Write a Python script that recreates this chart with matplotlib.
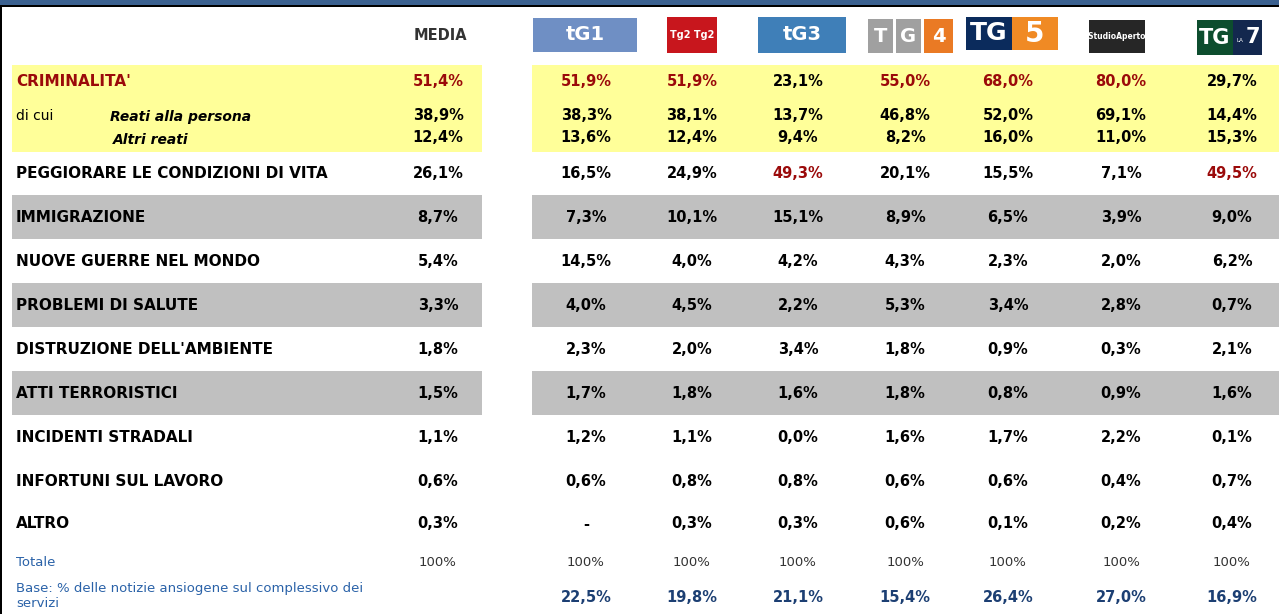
"""Notizie ansiogene per tipo e testata: tabella ricostruita."""
import matplotlib
matplotlib.use("Agg")
import matplotlib.pyplot as plt
from matplotlib.patches import Rectangle

# --- data -------------------------------------------------------------
categories = ["CRIMINALITA'", "Reati alla persona", "Altri reati",
              "PEGGIORARE LE CONDIZIONI DI VITA", "IMMIGRAZIONE",
              "NUOVE GUERRE NEL MONDO", "PROBLEMI DI SALUTE",
              "DISTRUZIONE DELL'AMBIENTE", "ATTI TERRORISTICI",
              "INCIDENTI STRADALI", "INFORTUNI SUL LAVORO", "ALTRO"]
media = [51.4, 38.9, 12.4, 26.1, 8.7, 5.4, 3.3, 1.8, 1.5, 1.1, 0.6, 0.3]
tg1 = [51.9, 38.3, 13.6, 16.5, 7.3, 14.5, 4.0, 2.3, 1.7, 1.2, 0.6, None]
tg2 = [51.9, 38.1, 12.4, 24.9, 10.1, 4.0, 4.5, 2.0, 1.8, 1.1, 0.8, 0.3]
tg3 = [23.1, 13.7, 9.4, 49.3, 15.1, 4.2, 2.2, 3.4, 1.6, 0.0, 0.8, 0.3]
tg4 = [55.0, 46.8, 8.2, 20.1, 8.9, 4.3, 5.3, 1.8, 1.8, 1.6, 0.6, 0.6]
tg5 = [68.0, 52.0, 16.0, 15.5, 6.5, 2.3, 3.4, 0.9, 0.8, 1.7, 0.6, 0.1]
studio_aperto = [80.0, 69.1, 11.0, 7.1, 3.9, 2.0, 2.8, 0.3, 0.9, 2.2, 0.4, 0.2]
tg_la7 = [29.7, 14.4, 15.3, 49.5, 9.0, 6.2, 0.7, 2.1, 1.6, 0.1, 0.7, 0.4]
base = [22.5, 19.8, 21.1, 15.4, 26.4, 27.0, 16.9]
channels = [tg1, tg2, tg3, tg4, tg5, studio_aperto, tg_la7]
sub_rows = {1, 2}          # "di cui" rows
grey_rows = {4, 6, 8}      # shaded rows

# --- layout -----------------------------------------------------------
W, H = 1279, 614
row_y = [82, 115, 138, 173, 217, 261, 305, 349, 393, 437, 481, 524]
media_x = 438
chan_x = [586, 692, 798, 905, 1008, 1121, 1232]
RED = "#9b0a0a"
BLUE = "#2a62a8"
NAVY = "#1c3f73"
FONT = "DejaVu Sans"

fig = plt.figure(figsize=(W / 100, H / 100), dpi=100)
ax = fig.add_axes([0, 0, 1, 1])
ax.set_xlim(0, W)
ax.set_ylim(H, 0)
ax.axis("off")

# frame bits
ax.add_patch(Rectangle((0, 0), W, 4.5, color="#3b6190", lw=0))
ax.add_patch(Rectangle((0, 4.5), W, 2, color="black", lw=0))
ax.add_patch(Rectangle((0, 4.5), 2, H, color="black", lw=0))

# bands
yellow = "#ffff99"
ax.add_patch(Rectangle((12, 65), 470, 87, color=yellow, lw=0))
ax.add_patch(Rectangle((532, 65), W - 532, 87, color=yellow, lw=0))
for i in grey_rows:
    ax.add_patch(Rectangle((12, row_y[i] - 22), 470, 44, color="#c0c0c0", lw=0))
    ax.add_patch(Rectangle((532, row_y[i] - 22), W - 532, 44, color="#c0c0c0", lw=0))

# header
ax.text(440, 35, "MEDIA", ha="center", va="center", fontsize=10.5,
        fontweight="bold", color="#333333", family=FONT)


def logo_box(x0, x1, y0, y1, fc, txt, fs=13, tc="white", style="normal"):
    ax.add_patch(Rectangle((x0, y0), x1 - x0, y1 - y0, color=fc, lw=0))
    if txt:
        ax.text((x0 + x1) / 2, (y0 + y1) / 2, txt, ha="center", va="center",
                fontsize=fs, color=tc, fontweight="bold", style=style,
                family=FONT)


logo_box(533, 637, 18, 52, "#6f8fc4", "tG1", 14)
logo_box(667, 717, 17, 53, "#c8161d", "Tg2 Tg2", 7)
logo_box(758, 846, 17, 53, "#3f7fb8", "tG3", 14)
logo_box(868, 893, 19, 53, "#a0a0a0", "T", 14)
logo_box(896, 921, 19, 53, "#a0a0a0", "G", 14)
logo_box(924, 953, 19, 53, "#ea7a24", "4", 14)
logo_box(966, 1012, 17, 50, "#0b2b5c", "TG", 18)
logo_box(1012, 1058, 17, 50, "#f08a24", "5", 20)
logo_box(1089, 1145, 20, 53, "#262626", "‹StudioAperto›", 5.5)
logo_box(1197, 1233, 20, 55, "#0d4d2e", "TG", 15)
logo_box(1233, 1262, 20, 55, "#13284e", "", 16)
ax.text(1240, 40, "LA", fontsize=4, color="white", ha="center", va="center",
        family=FONT)
ax.text(1253, 37, "7", fontsize=15, color="white", ha="center", va="center",
        fontweight="bold", family=FONT)

# row labels
for i, name in enumerate(categories):
    y = row_y[i]
    if i == 0:
        ax.text(16, y, name, va="center", fontsize=11, fontweight="bold",
                color=RED, family=FONT)
    elif i in sub_rows:
        ax.text(113 if i == 2 else 110, y + 2, name, va="center", fontsize=10,
                fontweight="bold", style="italic", color="black", family=FONT)
    else:
        ax.text(16, y, name, va="center", fontsize=11, fontweight="bold",
                color="black", family=FONT)
ax.text(16, row_y[1] + 1, "di cui", va="center", fontsize=10, color="black",
        family=FONT)


def fmt(v):
    return "-" if v is None else f"{v:.1f}%".replace(".", ",")


main_rows = [i for i in range(len(categories)) if i not in sub_rows]
for x, col in zip([media_x] + chan_x, [media] + channels):
    top = max(col[i] for i in main_rows if col[i] is not None)
    for i, v in enumerate(col):
        red = (i not in sub_rows) and v == top
        ax.text(x, row_y[i], fmt(v), ha="center", va="center", fontsize=10.5,
                fontweight="bold", color=RED if red else "black", family=FONT)

# totals
ax.text(16, 562, "Totale", va="center", fontsize=9.5, color=BLUE, family=FONT)
ax.text(16, 596, "Base: % delle notizie ansiogene sul complessivo dei\nservizi",
        va="center", fontsize=9.5, color=BLUE, family=FONT, linespacing=1.25)
for x in [media_x] + chan_x:
    ax.text(x, 562, "100%", ha="center", va="center", fontsize=9.5,
            color="#333333", family=FONT)
for x, v in zip(chan_x, base):
    ax.text(x, 597, fmt(v), ha="center", va="center", fontsize=10.5,
            fontweight="bold", color=NAVY, family=FONT)

fig.savefig("out.png", dpi=100)
